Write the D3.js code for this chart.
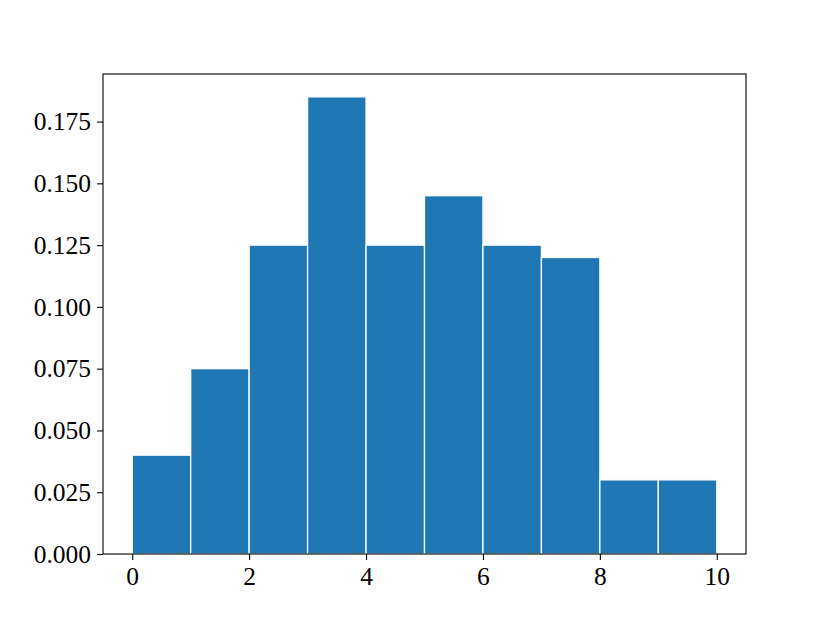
<!DOCTYPE html>
<html><head><meta charset="utf-8">
<script src="https://cdn.jsdelivr.net/npm/d3@7"></script>
<style>body{margin:0;background:#fff}</style>
</head><body>
<script>
const binStarts = [0,1,2,3,4,5,6,7,8,9];
const binWidth = 1;
const densities = [0.04,0.075,0.125,0.185,0.125,0.145,0.125,0.12,0.03,0.03];
const xTicks = [0,2,4,6,8,10];
const yTicks = [0,0.025,0.05,0.075,0.1,0.125,0.15,0.175];

const W=830,H=623, L=103, R=746, T=74, B=554;
const svg=d3.select("body").append("svg").attr("width",W).attr("height",H);
const x=d3.scaleLinear().domain([-0.5,10.5]).range([L,R]);
const y=d3.scaleLinear().domain([0,0.185*1.05]).range([B,T]);

svg.selectAll("rect.bar").data(binStarts).enter().append("rect")
 .attr("class","bar")
 .attr("x",d=>x(d)).attr("width",d=>x(d+binWidth)-x(d))
 .attr("y",(d,i)=>y(densities[i])).attr("height",(d,i)=>y(0)-y(densities[i]))
 .attr("fill","#1f77b4").attr("stroke","#fff").attr("stroke-width",1.3);

const font="'Liberation Serif', 'Times New Roman', serif";
const xa=svg.append("g").attr("transform",`translate(0,${B})`)
 .call(d3.axisBottom(x).tickValues(xTicks).tickFormat(d3.format("d")).tickSize(6).tickPadding(6));
const ya=svg.append("g").attr("transform",`translate(${L},0)`)
 .call(d3.axisLeft(y).tickValues(yTicks).tickFormat(d3.format(".3f")).tickSize(6).tickPadding(6));
[xa,ya].forEach(a=>{a.select(".domain").remove();
 a.selectAll("text").attr("font-family",font).attr("font-size",25.5).attr("fill","#000");
 a.selectAll("line").attr("stroke","#000").attr("stroke-width",1.1);});
xa.selectAll("text").attr("dy","0.75em");
svg.append("rect").attr("x",L).attr("y",T).attr("width",R-L).attr("height",B-T)
 .attr("fill","none").attr("stroke","#000").attr("stroke-width",1.1);
</script>
</body></html>
